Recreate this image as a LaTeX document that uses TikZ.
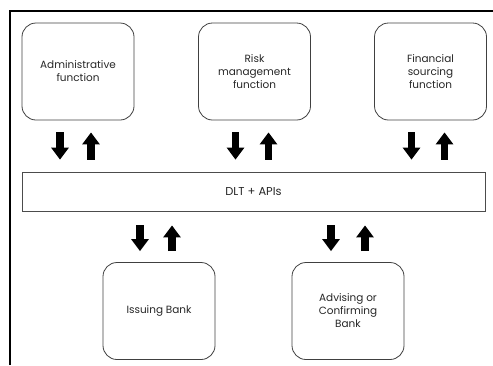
\documentclass[tikz,border=0pt]{standalone}
\usepackage{fontspec}
\setmainfont{Poppins}
\usetikzlibrary{arrows.meta,calc}
\begin{document}
\begin{tikzpicture}[x=1bp,y=-1bp,
  box/.style={draw=black!75, line width=0.8bp, rounded corners=14bp,
    minimum width=112bp, minimum height=97bp, align=center, inner sep=0pt,
    text=black!85, font=\fontsize{10.5}{13}\selectfont},
  bar/.style={draw=black!70, line width=0.8bp, minimum width=463bp,
    minimum height=39bp, inner sep=0pt, text=black!85,
    font=\fontsize{11.5}{13}\selectfont},
  flow/.style={line width=7.5bp, black, -{Triangle[width=17bp,length=12bp]}}]
\useasboundingbox (0,0) rectangle (493,365);
\draw[line width=2bp] (9.5,365) -- (9.5,11) -- (493,11);

\node[box] (adm)  at (78,71.5)    {Administrative\\function};
\node[box] (risk) at (254.5,71.5) {Risk\\management\\function};
\node[box] (fin)  at (430.5,71.5) {Financial\\sourcing\\function};
\node[bar] (dlt)  at (253.5,191.5) {DLT + APIs};
\node[box] (iss)  at (159,311)    {Issuing Bank};
\node[box] (adv)  at (348,311)    {Advising or\\Confirming\\Bank};

\foreach \n/\d/\u in {adm/-18/13, risk/-19/14, fin/-19/14}{
  \draw[flow] ($(\n.south)+(\d,12)$) -- ($(\n.south |- dlt.north)+(\d,-12)$);
  \draw[flow] ($(\n.south |- dlt.north)+(\u,-12)$) -- ($(\n.south)+(\u,12)$);
}
\foreach \n/\d/\u in {iss/-19/13, adv/-17/17}{
  \draw[flow] ($(\n.north |- dlt.south)+(\d,14)$) -- ($(\n.north)+(\d,-11)$);
  \draw[flow] ($(\n.north)+(\u,-11)$) -- ($(\n.north |- dlt.south)+(\u,14)$);
}
\end{tikzpicture}
\end{document}
